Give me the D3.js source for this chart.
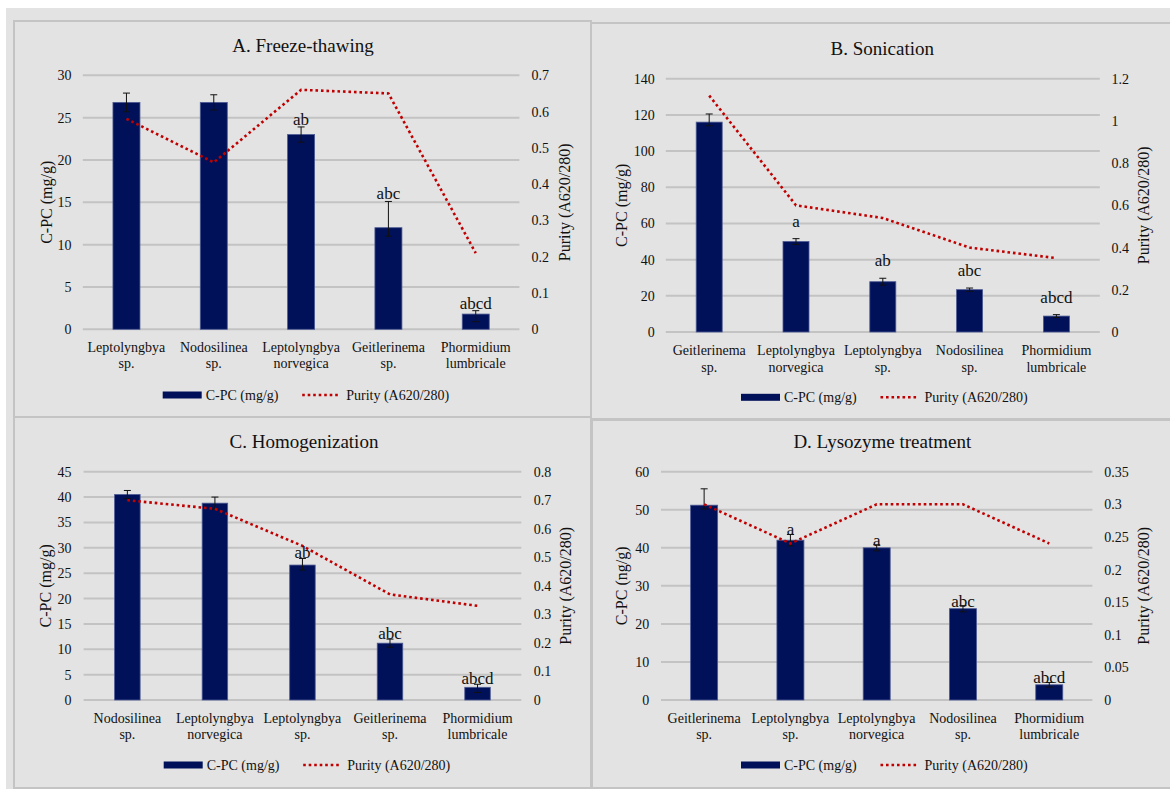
<!DOCTYPE html>
<html>
<head>
<meta charset="utf-8">
<script src="https://cdn.jsdelivr.net/npm/d3@7"></script>
<style>
  body { margin: 0; background: #fff; }
  svg { display: block; }
  svg text { font-family: "Liberation Serif", "Times New Roman", Times, serif !important; }
</style>
</head>
<body>
<div id="chart"></div>
<script>
// ---- data ----
var catsA    = ["Leptolyngbya sp.", "Nodosilinea sp.", "Leptolyngbya norvegica", "Geitlerinema sp.", "Phormidium lumbricale"]
var cpcA     = [26.8, 26.8, 23.0, 12.0, 1.8]
var errHiA   = [1.1, 0.9, 0.9, 3.1, 0.4]
var errLoA   = [1.1, 0.9, 0.9, 1.0, 0.9]
var purityA  = [0.58, 0.46, 0.66, 0.65, 0.21]
var lettersA = ["", "", "ab", "abc", "abcd"]

var catsB    = ["Geitlerinema sp.", "Leptolyngbya norvegica", "Leptolyngbya sp.", "Nodosilinea sp.", "Phormidium lumbricale"]
var cpcB     = [116, 50, 27.8, 23.4, 8.8]
var errHiB   = [4.5, 1.6, 1.9, 0.9, 0.8]
var errLoB   = [2.0, 1.6, 1.9, 0.9, 0.8]
var purityB  = [1.12, 0.60, 0.54, 0.40, 0.35]
var lettersB = ["", "a", "ab", "abc", "abcd"]

var catsC    = ["Nodosilinea sp.", "Leptolyngbya norvegica", "Leptolyngbya sp.", "Geitlerinema sp.", "Phormidium lumbricale"]
var cpcC     = [40.5, 38.8, 26.6, 11.2, 2.5]
var errHiC   = [0.8, 1.2, 1.3, 0.8, 0.6]
var errLoC   = [0.8, 1.2, 1.0, 0.8, 1.0]
var purityC  = [0.70, 0.67, 0.54, 0.37, 0.33]
var lettersC = ["", "", "ab", "abc", "abcd"]

var catsD    = ["Geitlerinema sp.", "Leptolyngbya sp.", "Leptolyngbya norvegica", "Nodosilinea sp.", "Phormidium lumbricale"]
var cpcD     = [51.2, 42.0, 40.0, 24.0, 4.0]
var errHiD   = [4.3, 1.5, 0.8, 0.8, 0.6]
var errLoD   = [1.0, 1.5, 0.8, 0.8, 0.6]
var purityD  = [0.30, 0.24, 0.30, 0.30, 0.24]
var lettersD = ["", "a", "a", "abc", "abcd"]

var leftDomains  = [[0, 30], [0, 140], [0, 45], [0, 60]]
var leftSteps    = [5, 20, 5, 10]
var rightDomains = [[0, 0.7], [0, 1.2], [0, 0.8], [0, 0.35]]
var rightSteps   = [0.1, 0.2, 0.1, 0.05]
var titles       = ["A. Freeze-thawing", "B. Sonication", "C. Homogenization", "D. Lysozyme treatment"]
var leftTitles   = ["C-PC (mg/g)", "C-PC (mg/g)", "C-PC (mg/g)", "C-PC (ng/g)"]
var rightTitle   = "Purity (A620/280)"
var legendNames  = ["C-PC (mg/g)", "Purity (A620/280)"]

var barColor = "#001159"
var lineColor = "#c00000"
var textColor = "#111"

var W = 1170, H = 789

var svg = d3.select("#chart").append("svg").attr("width", W).attr("height", H)

// gray page behind the panels
svg.append("rect").attr("x", 6).attr("y", 8).attr("width", W).attr("height", H).attr("fill", "#e3e3e3")

// panel layout (pixels)
var panels = [
  {cats: catsA, cpc: cpcA, hi: errHiA, lo: errLoA, purity: purityA, letters: lettersA,
   px: 14, py: 21, pw: 577, ph: 396, x0: 82.8, x1: 519.4, yTop: 75.3, yBot: 329.3,
   titleX: 303, titleY: 45, leftX: 71.5, rightX: 531.4, yTitleX: 46, rTitleX: 564.5,
   cat1Y: 346.7, cat2Y: 363.3, legY: 395, legX: 162.7, barW: 27, gap: 8},
  {cats: catsB, cpc: cpcB, hi: errHiB, lo: errLoB, purity: purityB, letters: lettersB,
   px: 591, py: 23, pw: 590, ph: 396, x0: 665.8, x1: 1099.8, yTop: 78.7, yBot: 332,
   titleX: 882.3, titleY: 48.3, leftX: 654.7, rightX: 1111.6, yTitleX: 621.4, rTitleX: 1143.8,
   cat1Y: 350, cat2Y: 366.7, legY: 397.3, legX: 741, barW: 26, gap: 18},
  {cats: catsC, cpc: cpcC, hi: errHiC, lo: errLoC, purity: purityC, letters: lettersC,
   px: 14, py: 417, pw: 577, ph: 371, x0: 83.6, x1: 521.3, yTop: 471.7, yBot: 700,
   titleX: 304, titleY: 441, leftX: 71.5, rightX: 533.7, yTitleX: 45, rTitleX: 565.3,
   cat1Y: 717.7, cat2Y: 734.3, legY: 765, legX: 163.7, barW: 25.5, gap: 6},
  {cats: catsD, cpc: cpcD, hi: errHiD, lo: errLoD, purity: purityD, letters: lettersD,
   px: 592, py: 420, pw: 590, ph: 368, x0: 661, x1: 1092.4, yTop: 471.7, yBot: 700,
   titleX: 882.3, titleY: 441, leftX: 649.2, rightX: 1104.2, yTitleX: 621.4, rTitleX: 1143.8,
   cat1Y: 717.7, cat2Y: 734.3, legY: 765, legX: 741, barW: 27, gap: 5}
]

var fmt = function(d) { return String(+d.toFixed(2)) }

panels.forEach(function(p, i) {
  var g = svg.append("g")

  g.append("rect")
    .attr("x", p.px).attr("y", p.py).attr("width", p.pw).attr("height", p.ph)
    .attr("fill", "#e3e3e3").attr("stroke", "#c4c4c4").attr("stroke-width", 2)

  var x = d3.scaleBand().domain(p.cats).range([p.x0, p.x1])
  var y = d3.scaleLinear().domain(leftDomains[i]).range([p.yBot, p.yTop])
  var y2 = d3.scaleLinear().domain(rightDomains[i]).range([p.yBot, p.yTop])
  var cx = function(j) { return x(p.cats[j]) + x.bandwidth() / 2 }

  var leftTicks = d3.range(leftDomains[i][0], leftDomains[i][1] + 1e-9, leftSteps[i])
  var rightTicks = d3.range(0, Math.round(rightDomains[i][1] / rightSteps[i]) + 1).map(function(k) { return k * rightSteps[i] })

  // gridlines
  g.selectAll("line.grid").data(leftTicks).enter().append("line")
    .attr("x1", p.x0).attr("x2", p.x1)
    .attr("y1", function(d) { return y(d) }).attr("y2", function(d) { return y(d) })
    .attr("stroke", "#c3c3c3").attr("stroke-width", 2)

  // left axis
  var la = g.append("g").attr("transform", "translate(" + p.leftX + ",0)")
    .call(d3.axisLeft(y).tickValues(leftTicks).tickSize(0).tickPadding(0).tickFormat(fmt))
  la.select(".domain").remove()
  la.selectAll("text").attr("font-size", 14).attr("fill", textColor)

  // right axis
  var ra = g.append("g").attr("transform", "translate(" + p.rightX + ",0)")
    .call(d3.axisRight(y2).tickValues(rightTicks).tickSize(0).tickPadding(0).tickFormat(fmt))
  ra.select(".domain").remove()
  ra.selectAll("text").attr("font-size", 14).attr("fill", textColor)

  // bars
  g.selectAll("rect.bar").data(p.cpc).enter().append("rect")
    .attr("x", function(d, j) { return cx(j) - p.barW / 2 })
    .attr("y", function(d) { return y(d) })
    .attr("width", p.barW)
    .attr("height", function(d) { return y(0) - y(d) })
    .attr("fill", barColor).attr("stroke", "#4d5a94").attr("stroke-width", 0.8)

  // error bars
  var eb = g.selectAll("g.err").data(p.cpc).enter().append("g")
  eb.append("line")
    .attr("x1", function(d, j) { return cx(j) }).attr("x2", function(d, j) { return cx(j) })
    .attr("y1", function(d, j) { return y(d + p.hi[j]) }).attr("y2", function(d, j) { return y(d - p.lo[j]) })
    .attr("stroke", textColor).attr("stroke-width", 1)
  eb.append("line")
    .attr("x1", function(d, j) { return cx(j) - 3.5 }).attr("x2", function(d, j) { return cx(j) + 3.5 })
    .attr("y1", function(d, j) { return y(d + p.hi[j]) }).attr("y2", function(d, j) { return y(d + p.hi[j]) })
    .attr("stroke", textColor).attr("stroke-width", 1)
  eb.append("line")
    .attr("x1", function(d, j) { return cx(j) - 3.5 }).attr("x2", function(d, j) { return cx(j) + 3.5 })
    .attr("y1", function(d, j) { return y(d - p.lo[j]) }).attr("y2", function(d, j) { return y(d - p.lo[j]) })
    .attr("stroke", textColor).attr("stroke-width", 1)

  // purity line
  var line = d3.line()
    .x(function(d, j) { return cx(j) })
    .y(function(d) { return y2(d) })
  g.append("path").attr("d", line(p.purity))
    .attr("fill", "none").attr("stroke", lineColor).attr("stroke-width", 2.6)
    .attr("stroke-dasharray", "2.6,2.9")

  // significance letters
  g.selectAll("text.letter").data(p.letters).enter().append("text")
    .attr("x", function(d, j) { return cx(j) })
    .attr("y", function(d, j) { return y(p.cpc[j] + p.hi[j]) - p.gap })
    .attr("dy", "0.35em").attr("text-anchor", "middle")
    .attr("font-size", 17).attr("fill", textColor)
    .text(function(d) { return d })

  // category labels (two lines)
  p.cats.forEach(function(c, j) {
    var k = c.indexOf(" ")
    var parts = [c.slice(0, k), c.slice(k + 1)]
    g.append("text").attr("x", cx(j)).attr("y", p.cat1Y).attr("dy", "0.35em")
      .attr("text-anchor", "middle").attr("font-size", 14).attr("fill", textColor).text(parts[0])
    g.append("text").attr("x", cx(j)).attr("y", p.cat2Y).attr("dy", "0.35em")
      .attr("text-anchor", "middle").attr("font-size", 14).attr("fill", textColor).text(parts[1])
  })

  // title
  g.append("text").attr("x", p.titleX).attr("y", p.titleY).attr("dy", "0.35em")
    .attr("text-anchor", "middle").attr("font-size", 19).attr("fill", textColor).text(titles[i])

  // axis titles
  var midY = (p.yTop + p.yBot) / 2
  g.append("text").attr("transform", "translate(" + p.yTitleX + "," + midY + ") rotate(-90)")
    .attr("dy", "0.35em").attr("text-anchor", "middle").attr("font-size", 16).attr("fill", textColor)
    .text(leftTitles[i])
  g.append("text").attr("transform", "translate(" + p.rTitleX + "," + midY + ") rotate(-90)")
    .attr("dy", "0.35em").attr("text-anchor", "middle").attr("font-size", 16).attr("fill", textColor)
    .text(rightTitle)

  // legend
  var lg = g.append("g").attr("transform", "translate(" + p.legX + "," + p.legY + ")")
  lg.append("rect").attr("x", 0).attr("y", -3.5).attr("width", 39).attr("height", 7).attr("fill", barColor)
  lg.append("text").attr("x", 43).attr("dy", "0.35em").attr("font-size", 14).attr("fill", textColor).text(legendNames[0])
  lg.append("line").attr("x1", 139.5).attr("x2", 178).attr("y1", 0).attr("y2", 0)
    .attr("stroke", lineColor).attr("stroke-width", 2.6).attr("stroke-dasharray", "2.6,2.9")
  lg.append("text").attr("x", 183.5).attr("dy", "0.35em").attr("font-size", 14).attr("fill", textColor).text(legendNames[1])
})
</script>
</body>
</html>
